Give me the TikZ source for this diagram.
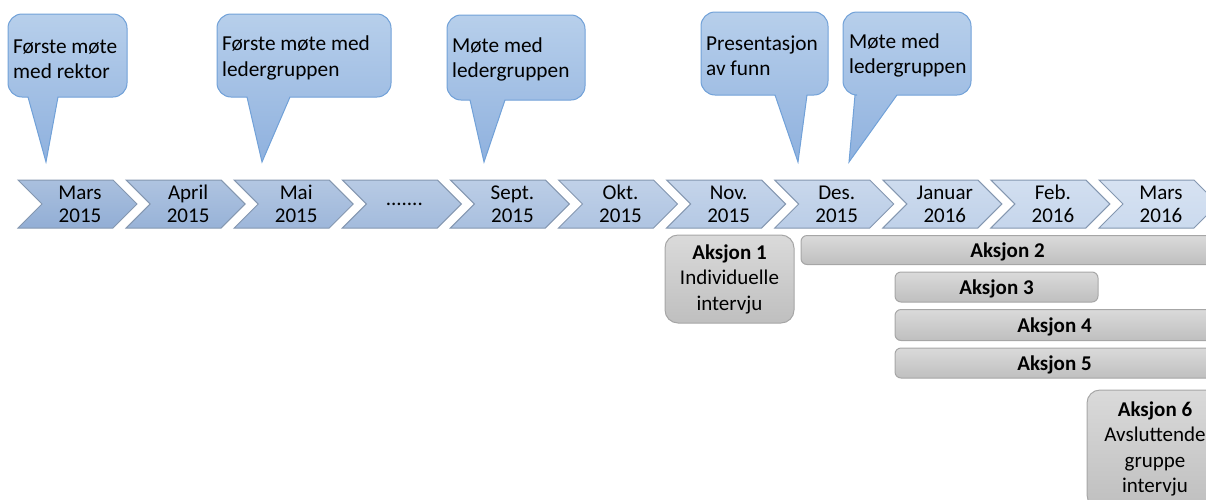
\documentclass[tikz,border=0pt]{standalone}
\usepackage{fontspec}
\setmainfont{Carlito}
\definecolor{chevL}{HTML}{92AED5}
\definecolor{chevR}{HTML}{CBDAEE}
\definecolor{chevEdge}{HTML}{8497B0}
\definecolor{bubTop}{HTML}{B7CFEB}
\definecolor{bubBot}{HTML}{8FB1DE}
\definecolor{bubEdge}{HTML}{71A1D8}
\definecolor{boxTop}{HTML}{DADADA}
\definecolor{boxBot}{HTML}{BFBFBF}
\definecolor{boxEdge}{HTML}{A6A6A6}
\tikzset{
  bubble/.style={draw=bubEdge, line width=1pt, top color=bubTop, bottom color=bubBot},
  bubtext/.style={anchor=west, align=left, inner sep=0pt, font=\fontsize{21.3}{25.5}\selectfont},
  chevtext/.style={align=center, inner sep=0pt, font=\fontsize{21}{23}\selectfont},
  action/.style={draw=boxEdge, line width=1pt, top color=boxTop, bottom color=boxBot,
    inner sep=0pt, align=center, font=\fontsize{21}{25.5}\selectfont},
  bar/.style={action, rounded corners=6pt, minimum height=29pt, text depth=0pt},
  block/.style={action, rounded corners=13pt}
}
\newcommand\gapdots{.......}
% speech bubble: box corners (x1,y1)-(x2,y2), pointer base from b1 to b2, tip point;
% corners are quarter circles of radius 14 (Bezier controls 6.3 from the corner)
\newcommand\bubble[7]{%
  \path[bubble] (#5,#4) -- (#1+14,#4) .. controls (#1+6.3,#4) and (#1,#4-6.3) .. (#1,#4-14)
    -- (#1,#2+14) .. controls (#1,#2+6.3) and (#1+6.3,#2) .. (#1+14,#2)
    -- (#3-14,#2) .. controls (#3-6.3,#2) and (#3,#2+6.3) .. (#3,#2+14)
    -- (#3,#4-14) .. controls (#3,#4-6.3) and (#3-6.3,#4) .. (#3-14,#4)
    -- (#6,#4) -- (#7) -- cycle;}
\begin{document}
\begin{tikzpicture}[x=1pt, y=-1pt]
\useasboundingbox (0,0) rectangle (1206,499);

% timeline of months
\foreach \lab [count=\i from 0] in {{Mars\\2015}, {April\\2015}, {Mai\\2015}, {\gapdots}, {Sept.\\2015},
    {Okt.\\2015}, {Nov.\\2015}, {Des.\\2015}, {Januar\\2016}, {Feb.\\2016}, {Mars\\2016}}{
  \pgfmathsetmacro\L{18+\i*108.1}
  \pgfmathtruncatemacro\pct{\i*10}
  \colorlet{cc}{chevR!\pct!chevL}
  \path[draw=chevEdge, line width=1pt, top color=cc!78!white, bottom color=cc]
    (\L,180) -- (\L+95,180) -- (\L+119,204) -- (\L+95,228) -- (\L,228) -- (\L+24,204) -- cycle;
  \node[chevtext] (m\i) at (\L+62,204) {\lab};
}

% meetings
\bubble{8}{14}{127}{97}{28}{58}{46,162}
\node[bubtext] (b1) at (13,59) {Første møte\\med rektor};
\bubble{217}{14}{391}{97}{247}{290}{262,162}
\node[bubtext] (b2) at (222,58) {Første møte med\\ledergruppen};
\bubble{447}{15}{585}{100}{470}{505}{484,162}
\node[bubtext] (b3) at (452,59.5) {Møte med\\ledergruppen};
\bubble{701}{12}{828}{95}{775}{807}{798,162}
\node[bubtext] (b4) at (706,55.5) {Presentasjon\\av funn};
\bubble{843}{12}{971}{95}{855}{897}{849,162}
\node[bubtext] (b5) at (849,55.5) {Møte med\\ledergruppen};

% actions
\node[block, minimum width=129pt, minimum height=88pt] (a1) at (729.5,279)
  {\textbf{Aksjon 1}\\Individuelle\\intervju};
\node[bar, minimum width=413pt] (a2) at (1007.5,250) {\textbf{Aksjon 2}};
\node[bar, minimum width=203pt, minimum height=30pt] (a3) at (996.5,287) {\textbf{Aksjon 3}};
\node[bar, minimum width=319pt, minimum height=31pt] (a4) at (1054.5,325) {\textbf{Aksjon 4}};
\node[bar, minimum width=319pt, minimum height=30pt] (a5) at (1054.5,363) {\textbf{Aksjon 5}};
\node[block, minimum width=136pt, minimum height=118pt] (a6) at (1155,449)
  {\textbf{Aksjon 6}\\Avsluttende\\gruppe\\intervju};
\end{tikzpicture}
\end{document}
